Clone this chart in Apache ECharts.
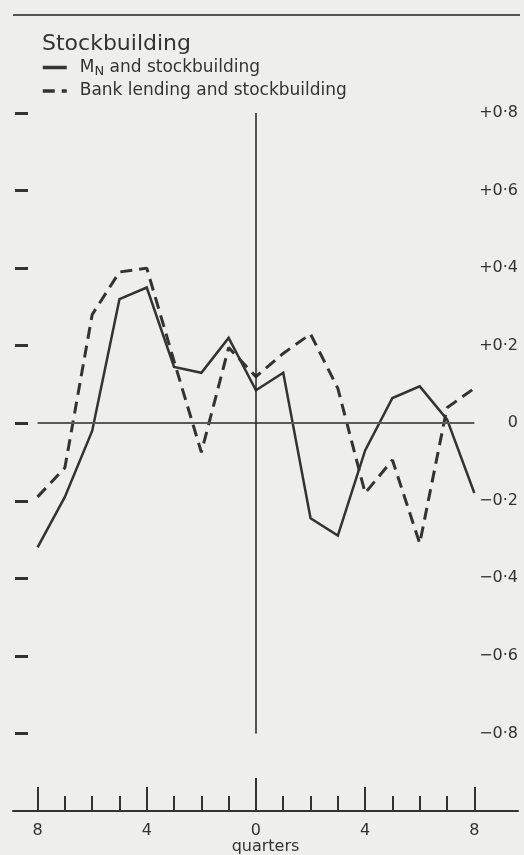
<!DOCTYPE html>
<html>
<head>
<meta charset="utf-8">
<script src="https://cdn.jsdelivr.net/npm/echarts@6/dist/echarts.min.js"></script>
<style>
  html, body { margin: 0; padding: 0; background: #eeeeec; }
  #chart { width: 524px; height: 855px; }
</style>
</head>
<body>
<div id="chart"></div>
<script>
// Lag in quarters, from 8 quarters lead to 8 quarters lag
const quarters = [-8, -7, -6, -5, -4, -3, -2, -1, 0, 1, 2, 3, 4, 5, 6, 7, 8];

// Correlation coefficients at each lag
const moneyStock = [-0.32, -0.19, -0.02, 0.32, 0.35, 0.145, 0.13, 0.22, 0.085, 0.13, -0.245, -0.29, -0.07, 0.065, 0.095, 0.01, -0.18];
const bankLending = [-0.19, -0.115, 0.28, 0.39, 0.40, 0.16, -0.075, 0.195, 0.12, 0.18, 0.23, 0.09, -0.18, -0.095, -0.31, 0.04, 0.09];

const seriesNames = ['M_N and stockbuilding', 'Bank lending and stockbuilding'];

// Axis tick values
const yTickValues = [-0.8, -0.6, -0.4, -0.2, 0, 0.2, 0.4, 0.6, 0.8];
const xMajorTicks = [-8, -4, 4, 8];
const xCentreTick = [0];
const xLabelValues = [-8, -4, 0, 4, 8];

const ink = '#333333';
const font = 'DejaVu Sans';

function yLabel(v) {
  const r = Math.round(v * 10);
  if (r === 0) return '0';
  const digit = Math.abs(r);
  return (r > 0 ? '+' : '\u2212') + '0\u00b7' + digit;
}

function pairs(values) {
  return quarters.map((q, i) => [q, values[i]]);
}

const chart = echarts.init(document.getElementById('chart'), null, { renderer: 'canvas' });

// Shared settings for the three stacked bottom axes (tick rows of different length)
const baseX = {
  type: 'value',
  min: -8.9,
  max: 9.6,
  gridIndex: 0,
  position: 'bottom',
  splitLine: { show: false },
  axisLine: { show: false, onZero: false },
  axisLabel: { show: false }
};

chart.setOption({
  backgroundColor: '#eeeeec',
  animation: false,
  title: {
    text: 'Stockbuilding',
    left: 37,
    top: 28,
    textStyle: { fontFamily: font, fontSize: 22, fontWeight: 'normal', color: ink }
  },
  legend: {
    orient: 'vertical',
    left: 36,
    top: 54,
    itemWidth: 24,
    itemHeight: 12,
    itemGap: 4,
    data: seriesNames,
    formatter: function (name) {
      if (name === seriesNames[0]) return 'M{sub|N} and stockbuilding';
      return name;
    },
    itemStyle: { color: 'rgba(0,0,0,0)', borderWidth: 0 },
    lineStyle: { width: 3.5, color: ink },
    textStyle: {
      fontFamily: font,
      fontSize: 17,
      color: ink,
      padding: [0, 0, 0, 8],
      rich: {
        sub: { fontFamily: font, fontSize: 13, color: ink, padding: [9, 0, 0, 0] }
      }
    }
  },
  grid: { left: 13, right: 6, top: 113, bottom: 44, outerBoundsMode: 'none', containLabel: false },
  xAxis: [
    Object.assign({}, baseX, {
      axisLine: { show: true, onZero: false, lineStyle: { color: ink, width: 2 } },
      axisTick: { show: true, inside: true, length: 15, customValues: quarters, lineStyle: { color: ink, width: 2 } },
      axisLabel: {
        show: true,
        customValues: xLabelValues,
        formatter: v => String(Math.abs(v)),
        margin: 12,
        fontFamily: font,
        fontSize: 16,
        color: ink
      },
      name: 'quarters',
      nameLocation: 'middle',
      nameGap: 28,
      nameMoveOverlap: false,
      nameTextStyle: { fontFamily: font, fontSize: 16, color: ink, verticalAlign: 'top' }
    }),
    Object.assign({}, baseX, {
      axisTick: { show: true, inside: true, length: 24, customValues: xMajorTicks, lineStyle: { color: ink, width: 2 } }
    }),
    Object.assign({}, baseX, {
      axisTick: { show: true, inside: true, length: 33, customValues: xCentreTick, lineStyle: { color: ink, width: 2 } }
    })
  ],
  yAxis: [
    {
      type: 'value',
      position: 'right',
      min: -1,
      max: 0.8,
      interval: 0.2,
      splitLine: { show: false },
      axisLine: { show: false, onZero: false },
      axisTick: { show: false },
      axisLabel: {
        customValues: yTickValues,
        formatter: yLabel,
        align: 'right',
        margin: 0,
        fontFamily: font,
        fontSize: 16,
        color: ink
      }
    },
    {
      type: 'value',
      position: 'left',
      offset: -2,
      min: -1,
      max: 0.8,
      interval: 0.2,
      splitLine: { show: false },
      axisLine: { show: false, onZero: false },
      axisLabel: { show: false },
      axisTick: {
        show: true,
        inside: true,
        length: 13,
        customValues: yTickValues,
        lineStyle: { color: ink, width: 3 }
      }
    }
  ],
  series: [
    {
      name: seriesNames[0],
      type: 'line',
      xAxisIndex: 0,
      yAxisIndex: 0,
      data: pairs(moneyStock),
      symbol: 'none',
      z: 3,
      lineStyle: { color: ink, width: 2.5, join: 'miter' },
      itemStyle: { color: ink },
      markLine: {
        silent: true,
        symbol: 'none',
        label: { show: false },
        data: [
          [{ coord: [-8, 0], lineStyle: { color: '#5a5a5a', width: 2, type: 'solid' } }, { coord: [8, 0] }],
          [{ coord: [0, 0.8], lineStyle: { color: '#222222', width: 1.5, type: 'solid' } }, { coord: [0, -0.8] }]
        ]
      }
    },
    {
      name: seriesNames[1],
      type: 'line',
      xAxisIndex: 0,
      yAxisIndex: 0,
      data: pairs(bankLending),
      symbol: 'none',
      z: 4,
      lineStyle: { color: ink, width: 3, type: [12, 7] },
      itemStyle: { color: ink }
    }
  ],
  graphic: [
    {
      type: 'line',
      shape: { x1: 13, y1: 15, x2: 520, y2: 15 },
      style: { stroke: '#555555', lineWidth: 2 },
      silent: true
    }
  ]
});
</script>
</body>
</html>
